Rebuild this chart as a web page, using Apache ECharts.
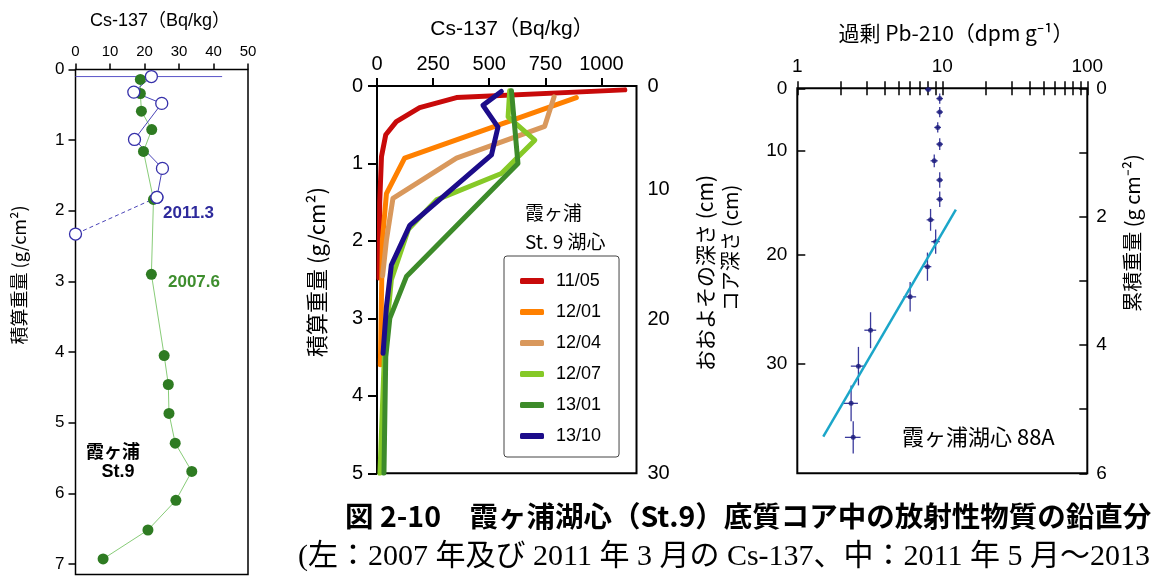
<!DOCTYPE html>
<html><head><meta charset="utf-8">
<script src="https://cdn.jsdelivr.net/npm/echarts@6/dist/echarts.min.js"></script>
<style>html,body{margin:0;padding:0;background:#fff}#c{width:1152px;height:576px}</style>
</head><body><div id="c"></div>
<script>
// ---------- Left panel: Cs-137 2007 / 2011 ----------
const leftTicksX = [0, 10, 20, 30, 40, 50];
const leftTicksY = [0, 1, 2, 3, 4, 5, 6, 7];
const cs2007Value = [18.8, 18.8, 19.1, 22.1, 19.7, 22.6, 22.0, 25.7, 26.9, 27.1, 28.9, 33.7, 29.1, 21.0, 8.0];
const cs2007Depth = [0.14, 0.34, 0.59, 0.85, 1.16, 1.84, 2.90, 4.05, 4.46, 4.87, 5.29, 5.69, 6.10, 6.52, 6.93];
const cs2011Value = [22.0, 16.9, 25.0, 17.1, 25.2, 23.6];
const cs2011Depth = [0.10, 0.32, 0.48, 0.99, 1.40, 1.81];
const cs2011LowValue = [23.6, 0];
const cs2011LowDepth = [1.81, 2.33];
const cs2011BarValue = [0, 42.5];
const cs2011BarDepth = [0.10, 0.10];

// ---------- Middle panel: Cs-137 2011-2013 ----------
const midTicksX = [0, 250, 500, 750, 1000];
const midTicksY = [0, 1, 2, 3, 4, 5];
const midCmLabels = [0, 10, 20, 30];
const midCmAtMass = [0, 1.34, 3.02, 5.0];
const midNames = ['11/05', '12/01', '12/04', '12/07', '13/01', '13/10'];
const midColors = ['#c80a0a', '#ff8000', '#d9985c', '#86c927', '#3d8b2a', '#1c0c8a'];
const m1105Value = [1104, 354, 190, 86, 39, 20, 12, 9];
const m1105Depth = [0.05, 0.15, 0.28, 0.46, 0.63, 0.91, 1.5, 2.48];
const m1201Value = [888, 123, 42, 24, 15];
const m1201Depth = [0.15, 0.93, 1.39, 1.99, 3.6];
const m1204Value = [789, 747, 354, 71, 42, 25];
const m1204Depth = [0.14, 0.52, 0.93, 1.45, 1.99, 2.45];
const m1207Value = [591, 584, 703, 554, 265, 140, 64, 34, 13];
const m1207Depth = [0.06, 0.40, 0.70, 1.13, 1.47, 1.85, 2.5, 3.4, 5.0];
const m1301Value = [599, 628, 131, 57, 39, 31];
const m1301Depth = [0.06, 1.0, 2.46, 3.0, 3.5, 5.0];
const m1310Value = [554, 472, 539, 510, 146, 64, 42, 27];
const m1310Depth = [0.07, 0.25, 0.53, 0.89, 1.80, 2.31, 2.85, 3.45];

// ---------- Right panel: excess Pb-210 ----------
const logTicks = [1, 2, 3, 4, 5, 6, 7, 8, 9, 10, 20, 30, 40, 50, 60, 70, 80, 90, 100];
const logLabels = [1, 10, 100];
const rightMassTicks = [0, 1, 2, 3, 4, 5, 6];
const rightMassLabels = [0, 2, 4, 6];
const rightCmLabels = [0, 10, 20, 30];
const rightCmAtMass = [0, 0.972, 2.60, 4.30];
const pbExcess = [8.0, 9.6, 9.6, 9.3, 9.6, 8.8, 9.6, 9.6, 8.3, 9.0, 7.9, 6.0, 3.2, 2.64, 2.35, 2.43];
const pbExcessErr = [0.4, 0.5, 0.5, 0.5, 0.5, 0.5, 0.5, 0.5, 0.5, 0.6, 0.5, 0.6, 0.3, 0.3, 0.27, 0.3];
const pbMass = [0.02, 0.16, 0.37, 0.61, 0.87, 1.13, 1.43, 1.73, 2.05, 2.39, 2.78, 3.25, 3.77, 4.33, 4.91, 5.44];
const pbMassErr = [0.02, 0.08, 0.08, 0.08, 0.09, 0.10, 0.12, 0.12, 0.17, 0.19, 0.22, 0.23, 0.28, 0.30, 0.28, 0.25];
const pbFitExcess = [1.51, 12.4];
const pbFitMass = [5.43, 1.89];

const pairs = (xs, ys) => xs.map((v, i) => [v, ys[i]]);
const F = '"Liberation Sans", "Noto Sans CJK JP", sans-serif';
const FJ = '"Noto Sans CJK JP", "Liberation Sans", sans-serif';
const FN = '"Liberation Sans Narrow", "Liberation Sans", sans-serif';
const tick = w => ({ color: '#000', width: w });
const lab = (size, fam, extra) => Object.assign({ color: '#000', fontSize: size, fontFamily: fam }, extra || {});
const plain = v => String(v);

const chart = echarts.init(document.getElementById('c'));

const midDepths = [m1105Depth, m1201Depth, m1204Depth, m1207Depth, m1301Depth, m1310Depth];
const midSeries = [m1105Value, m1201Value, m1204Value, m1207Value, m1301Value, m1310Value].map((vals, i) => ({
  name: midNames[i], type: 'line', xAxisIndex: 1, yAxisIndex: 1,
  data: pairs(vals, midDepths[i]),
  showSymbol: false, symbol: 'none', clip: true,
  itemStyle: { color: midColors[i] },
  lineStyle: { color: midColors[i], width: 5, cap: 'round', join: 'round' }
}));

const option = {
  animation: false,
  backgroundColor: '#fff',
  textStyle: { fontFamily: F },
  grid: [
    { left: 75.5, top: 69.5, width: 172.5, height: 505, show: true, borderColor: '#000', borderWidth: 1.5, outerBoundsMode: 'none', containLabel: false },
    { left: 377, top: 86, width: 259.5, height: 387.3, show: true, borderColor: '#000', borderWidth: 2, outerBoundsMode: 'none', containLabel: false },
    { left: 797.3, top: 88.3, width: 290, height: 385, show: true, borderColor: '#000', borderWidth: 2, outerBoundsMode: 'none', containLabel: false }
  ],
  xAxis: [
    { gridIndex: 0, type: 'value', position: 'top', min: 0, max: 50,
      axisLine: { show: false }, splitLine: { show: false },
      axisTick: { show: true, length: 6, lineStyle: tick(1.5), customValues: leftTicksX },
      axisLabel: lab(15, FN, { margin: 10, customValues: leftTicksX, formatter: plain }) },
    { gridIndex: 1, type: 'value', position: 'top', min: 0, max: 1156,
      axisLine: { show: false }, splitLine: { show: false },
      axisTick: { show: true, length: 8, lineStyle: tick(2), customValues: midTicksX },
      axisLabel: lab(20, F, { margin: 12, customValues: midTicksX, formatter: plain }) },
    { gridIndex: 2, type: 'log', logBase: 10, position: 'top', min: 1, max: 100,
      axisLine: { show: false }, splitLine: { show: false },
      axisTick: { show: true, inside: true, length: 7, lineStyle: tick(1.5), customValues: logTicks },
      axisLabel: lab(19, F, { margin: 12, customValues: logLabels, formatter: plain }) },
    { gridIndex: 2, type: 'log', logBase: 10, position: 'bottom', min: 1, max: 100,
      axisLine: { show: false }, splitLine: { show: false },
      axisTick: { show: true, inside: true, length: 7, lineStyle: tick(1.5), customValues: logTicks },
      axisLabel: { show: false } }
  ],
  yAxis: [
    { gridIndex: 0, type: 'value', inverse: true, min: 0, max: 7.15, position: 'left',
      axisLine: { show: false }, splitLine: { show: false },
      axisTick: { show: true, length: 7, lineStyle: tick(1.5), customValues: leftTicksY },
      axisLabel: lab(17, FN, { margin: 11, customValues: leftTicksY, formatter: plain }) },
    { gridIndex: 1, type: 'value', inverse: true, min: 0, max: 5, position: 'left',
      axisLine: { show: false }, splitLine: { show: false },
      axisTick: { show: true, length: 9, lineStyle: tick(2), customValues: midTicksY },
      axisLabel: lab(20, F, { margin: 14, customValues: midTicksY, formatter: plain }) },
    { gridIndex: 1, type: 'value', inverse: true, min: 0, max: 5, position: 'right',
      axisLine: { show: false }, splitLine: { show: false },
      axisTick: { show: false },
      axisLabel: lab(20, F, { margin: 11, customValues: midCmAtMass,
        formatter: v => { const i = midCmAtMass.findIndex(m => Math.abs(m - v) < 1e-6); return i >= 0 ? String(midCmLabels[i]) : ''; } }) },
    { gridIndex: 2, type: 'value', inverse: true, min: 0, max: 6, position: 'left',
      axisLine: { show: false }, splitLine: { show: false },
      axisTick: { show: true, inside: true, length: 8, lineStyle: tick(1.5), customValues: rightCmAtMass },
      axisLabel: lab(19, F, { margin: 10, customValues: rightCmAtMass,
        formatter: v => { const i = rightCmAtMass.findIndex(m => Math.abs(m - v) < 1e-6); return i >= 0 ? String(rightCmLabels[i]) : ''; } }) },
    { gridIndex: 2, type: 'value', inverse: true, min: 0, max: 6, position: 'right',
      axisLine: { show: false }, splitLine: { show: false },
      axisTick: { show: true, inside: true, length: 8, lineStyle: tick(1.5), customValues: rightMassTicks },
      axisLabel: lab(19, F, { margin: 9, customValues: rightMassLabels, formatter: plain }) }
  ],
  legend: {
    data: midNames, left: 504, top: 256, orient: 'vertical', selectedMode: false,
    icon: 'roundRect', itemWidth: 24, itemHeight: 6, itemGap: 13,
    padding: [16, 18, 12, 16], borderColor: '#444', borderWidth: 1, borderRadius: 3,
    textStyle: { fontSize: 18, fontFamily: F, color: '#000', lineHeight: 18, padding: [0, 0, 0, 7] }
  },
  series: [
    { name: 'cs2007', type: 'line', xAxisIndex: 0, yAxisIndex: 0, data: pairs(cs2007Value, cs2007Depth),
      symbol: 'circle', symbolSize: 11, clip: false,
      itemStyle: { color: '#2e7b22', borderColor: '#2e7b22', borderWidth: 0 },
      lineStyle: { color: '#88cc78', width: 1 } },
    { name: 'cs2011bar', type: 'line', xAxisIndex: 0, yAxisIndex: 0, data: pairs(cs2011BarValue, cs2011BarDepth),
      symbol: 'none', clip: false, lineStyle: { color: '#5a55c8', width: 1 } },
    { name: 'cs2011low', type: 'line', xAxisIndex: 0, yAxisIndex: 0, data: pairs(cs2011LowValue, cs2011LowDepth),
      symbol: 'circle', symbolSize: 12, clip: false,
      itemStyle: { color: '#fff', borderColor: '#3630aa', borderWidth: 1.3 },
      lineStyle: { color: '#4a44b8', width: 1, type: [4, 3] } },
    { name: 'cs2011', type: 'line', xAxisIndex: 0, yAxisIndex: 0, data: pairs(cs2011Value, cs2011Depth),
      symbol: 'circle', symbolSize: 12, clip: false,
      itemStyle: { color: '#fff', borderColor: '#3630aa', borderWidth: 1.3 },
      lineStyle: { color: '#4a44b8', width: 1 } },
    ...midSeries,
    { name: 'fit', type: 'line', xAxisIndex: 2, yAxisIndex: 3, data: pairs(pbFitExcess, pbFitMass),
      symbol: 'none', lineStyle: { color: '#1ba6c9', width: 2.5 } },
    { name: 'err', type: 'custom', xAxisIndex: 2, yAxisIndex: 3,
      data: pbExcess.map((v, i) => [v, pbMass[i], pbExcessErr[i], pbMassErr[i]]),
      encode: { x: 0, y: 1 },
      renderItem: (params, api) => {
        const x = api.value(0), y = api.value(1), ex = api.value(2), ey = api.value(3);
        const a = api.coord([x - ex, y]), b = api.coord([x + ex, y]);
        const c = api.coord([x, y - ey]), d = api.coord([x, y + ey]);
        const st = { stroke: '#3a3a9c', lineWidth: 1.3 };
        return { type: 'group', children: [
          { type: 'line', shape: { x1: a[0], y1: a[1], x2: b[0], y2: b[1] }, style: st },
          { type: 'line', shape: { x1: c[0], y1: c[1], x2: d[0], y2: d[1] }, style: st }
        ] };
      } },
    { name: 'pb', type: 'scatter', xAxisIndex: 2, yAxisIndex: 3, data: pairs(pbExcess, pbMass),
      symbol: 'circle', symbolSize: 5, itemStyle: { color: '#1a1a7a' } }
  ],
  graphic: [
    { type: 'text', x: 160, y: 21, style: { text: 'Cs-137（Bq/kg）', fontSize: 18, fontFamily: F, fill: '#000', align: 'center', verticalAlign: 'middle' } },
    { type: 'text', x: 19, y: 275, rotation: Math.PI / 2, style: { text: '積算重量 (g/cm²)', fontSize: 18, fontFamily: FJ, fill: '#000', align: 'center', verticalAlign: 'middle' } },
    { type: 'text', x: 163, y: 213, style: { text: '2011.3', fontSize: 17, fontWeight: 'bold', fontFamily: FN, fill: '#2e2a9c', align: 'left', verticalAlign: 'middle' } },
    { type: 'text', x: 168, y: 282, style: { text: '2007.6', fontSize: 17, fontWeight: 'bold', fontFamily: FN, fill: '#3e8e2e', align: 'left', verticalAlign: 'middle' } },
    { type: 'text', x: 113, y: 451, style: { text: '霞ヶ浦', fontSize: 18, fontWeight: 'bold', fontFamily: FJ, fill: '#000', align: 'center', verticalAlign: 'middle' } },
    { type: 'text', x: 118, y: 472, style: { text: 'St.9', fontSize: 18, fontWeight: 'bold', fontFamily: FN, fill: '#000', align: 'center', verticalAlign: 'middle' } },

    { type: 'text', x: 512, y: 29, style: { text: 'Cs-137（Bq/kg）', fontSize: 21, fontFamily: F, fill: '#000', align: 'center', verticalAlign: 'middle' } },
    { type: 'text', x: 317, y: 272, rotation: Math.PI / 2, style: { text: '積算重量 (g/cm²)', fontSize: 22, fontFamily: FJ, fill: '#000', align: 'center', verticalAlign: 'middle' } },
    { type: 'text', x: 525, y: 213, style: { text: '霞ヶ浦', fontSize: 19, fontFamily: FJ, fill: '#000', align: 'left', verticalAlign: 'middle' } },
    { type: 'text', x: 525, y: 242, style: { text: 'St. 9 湖心', fontSize: 19, fontFamily: FJ, fill: '#000', align: 'left', verticalAlign: 'middle' } },
    { type: 'text', x: 705, y: 273, rotation: Math.PI / 2, style: { text: 'おおよその深さ (cm)', fontSize: 21, fontFamily: FJ, fill: '#000', align: 'center', verticalAlign: 'middle' } },

    { type: 'text', x: 956, y: 33, style: { text: '過剰 Pb-210（dpm g⁻¹）', fontSize: 21, fontFamily: FJ, fill: '#000', align: 'center', verticalAlign: 'middle' } },
    { type: 'text', x: 730, y: 248, rotation: Math.PI / 2, style: { text: 'コア深さ (cm)', fontSize: 20, fontFamily: FJ, fill: '#000', align: 'center', verticalAlign: 'middle' } },
    { type: 'text', x: 1132, y: 233, rotation: Math.PI / 2, style: { text: '累積重量 (g cm⁻²)', fontSize: 20, fontFamily: FJ, fill: '#000', align: 'center', verticalAlign: 'middle' } },
    { type: 'text', x: 902, y: 437, style: { text: '霞ヶ浦湖心 88A', fontSize: 22, fontFamily: FJ, fill: '#000', align: 'left', verticalAlign: 'middle' } },

    { type: 'text', x: 345, y: 516, style: { text: '図 2-10　霞ヶ浦湖心（St.9）底質コア中の放射性物質の鉛直分', fontSize: 28.5, fontWeight: 'bold', fontFamily: FJ, fill: '#000', align: 'left', verticalAlign: 'middle' } },
    { type: 'text', x: 298, y: 557, style: { text: '(左：2007 年及び 2011 年 3 月の Cs-137、中：2011 年 5 月～2013', fontSize: 30, fontFamily: '"Liberation Serif", "Noto Sans CJK JP", serif', fill: '#000', align: 'left', verticalAlign: 'middle' } }
  ]
};
chart.setOption(option);
</script></body></html>
